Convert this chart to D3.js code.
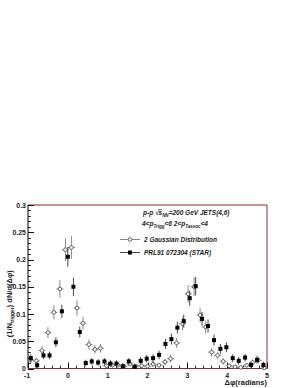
<!DOCTYPE html>
<html>
<head>
<meta charset="utf-8">
<script src="https://cdn.jsdelivr.net/npm/d3@7"></script>
<style>
  body { margin: 0; background: #fff; }
  svg { display: block; font-family: "Liberation Sans", Arial, sans-serif; }
</style>
</head>
<body>
<svg id="chart"></svg>
<script>
// STAR data (filled squares)
const starX = [-0.93, -0.77, -0.61, -0.46, -0.30, -0.15, 0.00, 0.14, 0.30, 0.45, 0.60, 0.76, 0.92, 1.07, 1.22, 1.38, 1.53, 1.68, 1.83, 1.98,
  2.14, 2.29, 2.45, 2.60, 2.75, 2.91, 3.06, 3.21, 3.37, 3.52, 3.67, 3.83, 3.98, 4.14, 4.29, 4.45, 4.60, 4.75, 4.91];
const starY = [0.019, 0.006, 0.024, 0.024, 0.048, 0.105, 0.205, 0.150, 0.067, 0.010, 0.013, 0.011, 0.013, 0.009, 0.009, 0.004, 0.013, 0.003, 0.014, 0.018,
  0.019, 0.025, 0.045, 0.054, 0.075, 0.087, 0.129, 0.151, 0.091, 0.078, 0.052, 0.036, 0.039, 0.019, 0.014, 0.020, 0.0065, 0.016, 0.0065];
const starErr = [0.007, 0.007, 0.007, 0.007, 0.009, 0.012, 0.018, 0.017, 0.010, 0.006, 0.006, 0.006, 0.006, 0.006, 0.006, 0.006, 0.006, 0.006, 0.007, 0.007,
  0.007, 0.008, 0.009, 0.010, 0.011, 0.012, 0.014, 0.017, 0.013, 0.012, 0.010, 0.009, 0.009, 0.007, 0.007, 0.007, 0.006, 0.007, 0.006];

// 2 Gaussian distribution (open markers)
const gausX = [-0.94, -0.79, -0.65, -0.50, -0.35, -0.20, -0.06, 0.09, 0.23, 0.38, 0.53, 0.68, 0.82, 0.97, 1.12, 1.26, 1.41, 1.56, 1.70, 1.85, 2.00,
  2.14, 2.29, 2.44, 2.58, 2.73, 2.88, 3.02, 3.17, 3.32, 3.46, 3.61, 3.76, 3.90, 4.05, 4.20, 4.34, 4.49, 4.64, 4.78, 4.93];
const gausY = [0.016, 0.014, 0.033, 0.066, 0.103, 0.146, 0.218, 0.222, 0.111, 0.083, 0.044, 0.035, 0.037, 0.005, 0.006, 0.006, 0.004, 0.008, 0.004, 0.005, 0.004,
  0.008, 0.006, 0.012, 0.018, 0.047, 0.082, 0.137, 0.150, 0.098, 0.076, 0.030, 0.024, 0.013, 0.005, 0.003, 0.002, 0.006, 0.011, 0.015, 0.001];
const gausErr = [0.006, 0.006, 0.008, 0.010, 0.013, 0.016, 0.021, 0.021, 0.014, 0.012, 0.009, 0.008, 0.008, 0.004, 0.004, 0.004, 0.004, 0.004, 0.004, 0.004, 0.004,
  0.005, 0.004, 0.006, 0.007, 0.009, 0.012, 0.016, 0.017, 0.013, 0.012, 0.008, 0.007, 0.006, 0.004, 0.004, 0.004, 0.004, 0.006, 0.006, 0.003];

const yTicks = [0, 0.05, 0.1, 0.15, 0.2, 0.25, 0.3];
const xTicks = [-1, 0, 1, 2, 3, 4, 5];

const W = 300, H = 388;
const frame = { left: 28, right: 267, top: 205, bottom: 368.5 };
const frameColor = "#8b2a2a";

const svg = d3.select("#chart").attr("width", W).attr("height", H);

const x = d3.scaleLinear().domain([-1, 5]).range([frame.left, frame.right]);
const y = d3.scaleLinear().domain([0, 0.3]).range([frame.bottom, frame.top]);

// frame: top and right in dark red
svg.append("line").attr("x1", frame.left).attr("x2", frame.right).attr("y1", frame.top).attr("y2", frame.top)
  .attr("stroke", frameColor).attr("stroke-width", 1);
svg.append("line").attr("x1", frame.right).attr("x2", frame.right).attr("y1", frame.top).attr("y2", frame.bottom)
  .attr("stroke", frameColor).attr("stroke-width", 1);

// y axis with ticks pointing inward
const yMinor = d3.range(0, 0.3001, 0.01);
const yAxis = svg.append("g");
yAxis.append("line").attr("x1", frame.left).attr("x2", frame.left).attr("y1", frame.top).attr("y2", frame.bottom)
  .attr("stroke", "#000");
yAxis.selectAll("line.minor").data(yMinor).enter().append("line").attr("class", "minor")
  .attr("x1", frame.left).attr("x2", frame.left + 3)
  .attr("y1", d => Math.round(y(d)) + 0.5).attr("y2", d => Math.round(y(d)) + 0.5)
  .attr("stroke", "#000").attr("stroke-width", 0.8);
yAxis.selectAll("line.major").data(yTicks).enter().append("line").attr("class", "major")
  .attr("x1", frame.left).attr("x2", frame.left + 6)
  .attr("y1", d => Math.round(y(d)) + 0.5).attr("y2", d => Math.round(y(d)) + 0.5)
  .attr("stroke", "#000").attr("stroke-width", 0.9);
yAxis.selectAll("text").data(yTicks).enter().append("text")
  .attr("x", frame.left - 2).attr("y", d => y(d) + 2.5)
  .attr("text-anchor", "end").attr("font-size", 7).attr("font-weight", "bold").attr("fill", "#222")
  .text(d => d3.format("")(+d.toFixed(2)));

// x axis
const xMinor = d3.range(-1, 5.001, 0.2);
const xAxis = svg.append("g");
xAxis.selectAll("line.minor").data(xMinor).enter().append("line").attr("class", "minor")
  .attr("x1", d => Math.round(x(d)) + 0.5).attr("x2", d => Math.round(x(d)) + 0.5)
  .attr("y1", frame.bottom).attr("y2", frame.bottom - 3)
  .attr("stroke", "#000").attr("stroke-width", 0.8);
xAxis.selectAll("line.major").data(xTicks).enter().append("line").attr("class", "major")
  .attr("x1", d => Math.round(x(d)) + 0.5).attr("x2", d => Math.round(x(d)) + 0.5)
  .attr("y1", frame.bottom).attr("y2", frame.bottom - 6)
  .attr("stroke", "#000").attr("stroke-width", 0.9);
xAxis.append("line").attr("x1", frame.left).attr("x2", frame.right).attr("y1", frame.bottom).attr("y2", frame.bottom)
  .attr("stroke", frameColor).attr("stroke-width", 1.2);
xAxis.selectAll("text").data(xTicks).enter().append("text")
  .attr("x", d => x(d) + (d < 0 ? -1 : 0)).attr("y", frame.bottom + 9)
  .attr("text-anchor", "middle").attr("font-size", 7).attr("font-weight", "bold").attr("fill", "#222")
  .text(d => d);

// axis titles
svg.append("text").attr("x", frame.right).attr("y", 385).attr("text-anchor", "end")
  .attr("font-size", 7.5).attr("font-weight", "bold").attr("fill", "#222").text("Δφ(radians)");

const yt = svg.append("text").attr("transform", `translate(12, ${(frame.top + frame.bottom) / 2 + 17}) rotate(-90)`)
  .attr("text-anchor", "middle").attr("font-size", 7.5).attr("font-weight", "bold").attr("fill", "#222");
yt.append("tspan").text("(1/N");
yt.append("tspan").attr("font-size", 5).attr("dy", 2).text("trigger");
yt.append("tspan").attr("dy", -2).text(") dN/d(Δφ)");

// data: open gaussian points
const gaus = gausX.map((v, i) => ({ x: v, y: gausY[i], e: gausErr[i] }));
const star = starX.map((v, i) => ({ x: v, y: starY[i], e: starErr[i] }));

const gG = svg.append("g");
gG.selectAll("line.ey").data(gaus).enter().append("line")
  .attr("x1", d => x(d.x)).attr("x2", d => x(d.x))
  .attr("y1", d => y(Math.max(0, d.y - d.e))).attr("y2", d => y(d.y + d.e))
  .attr("stroke", "#888").attr("stroke-width", 1);
gG.selectAll("line.ex").data(gaus).enter().append("line")
  .attr("x1", d => x(d.x) - 3.5).attr("x2", d => x(d.x) + 3.5)
  .attr("y1", d => y(d.y)).attr("y2", d => y(d.y))
  .attr("stroke", "#888").attr("stroke-width", 1);
gG.selectAll("circle").data(gaus).enter().append("circle")
  .attr("cx", d => x(d.x)).attr("cy", d => y(d.y)).attr("r", 1.8)
  .attr("fill", "#fff").attr("stroke", "#555").attr("stroke-width", 0.9);

// data: STAR filled squares
const sG = svg.append("g");
sG.selectAll("line").data(star).enter().append("line")
  .attr("x1", d => x(d.x)).attr("x2", d => x(d.x))
  .attr("y1", d => y(Math.max(0, d.y - d.e))).attr("y2", d => y(d.y + d.e))
  .attr("stroke", "#444").attr("stroke-width", 1);
sG.selectAll("rect").data(star).enter().append("rect")
  .attr("x", d => x(d.x) - 2).attr("y", d => y(d.y) - 2).attr("width", 4).attr("height", 4)
  .attr("fill", "#000");

// legend header
const hd = svg.append("text").attr("x", 143).attr("y", 215).attr("font-size", 6.5)
  .attr("font-weight", "bold").attr("font-style", "italic").attr("fill", "#222");
hd.append("tspan").text("p-p ");
hd.append("tspan").text("√");
hd.append("tspan").attr("text-decoration", "overline").text("s");
hd.append("tspan").attr("font-size", 4.5).attr("dy", 1.5).text("NN");
hd.append("tspan").attr("dy", -1.5).text("=200 GeV JETS(4,6)");

const h2 = svg.append("text").attr("x", 142).attr("y", 226).attr("font-size", 6.5)
  .attr("font-weight", "bold").attr("font-style", "italic").attr("fill", "#222");
h2.append("tspan").text("4<p");
h2.append("tspan").attr("font-size", 4.5).attr("dy", 1.5).text("Trigg");
h2.append("tspan").attr("dy", -1.5).text("<6  2<p");
h2.append("tspan").attr("font-size", 4.5).attr("dy", 1.5).text("Tassoc");
h2.append("tspan").attr("dy", -1.5).text("<4");

// legend entries
const legendLabels = ["2 Gaussian Distribution", "PRL91 072304 (STAR)"];
const legend = svg.append("g");
legendLabels.forEach((lab, i) => {
  const ly = 239.5 + i * 13;
  legend.append("line").attr("x1", 120).attr("x2", 140).attr("y1", ly).attr("y2", ly)
    .attr("stroke", i === 0 ? "#888" : "#444").attr("stroke-width", 1);
  if (i === 0) {
    legend.append("circle").attr("cx", 130).attr("cy", ly).attr("r", 1.8)
      .attr("fill", "#fff").attr("stroke", "#555").attr("stroke-width", 0.9);
  } else {
    legend.append("rect").attr("x", 128).attr("y", ly - 2).attr("width", 4).attr("height", 4).attr("fill", "#000");
  }
  legend.append("text").attr("x", 144).attr("y", ly + 2.3).attr("font-size", 6.5)
    .attr("font-weight", "bold").attr("font-style", "italic").attr("fill", "#222").text(lab);
});
</script>
</body>
</html>
